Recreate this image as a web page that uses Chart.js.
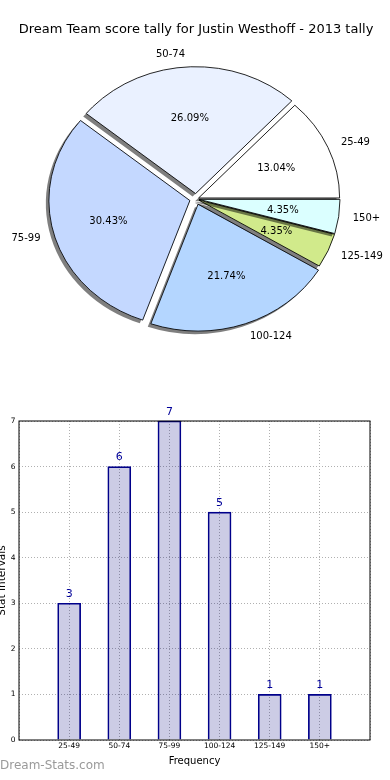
<!DOCTYPE html>
<html>
<head>
<meta charset="utf-8">
<script src="https://cdn.jsdelivr.net/npm/chart.js@4.4.1/dist/chart.umd.min.js"></script>
<style>
    body { margin: 0; background: #fff; width: 390px; height: 780px; overflow: hidden; position: relative; font-family: 'DejaVu Sans', sans-serif; }
    #caixaPizza { position: absolute; left: 0; top: 0; width: 390px; height: 370px; }
    #caixaBarras { position: absolute; left: -8px; top: 370px; width: 398px; height: 410px; }
    #marca { position: absolute; left: 0; top: 758px; font-size: 12px; color: #9a9a9a; }
</style>
</head>
<body>
<div id="caixaPizza"><canvas id="pizza"></canvas></div>
<div id="caixaBarras"><canvas id="barras"></canvas></div>
<div id="marca">Dream-Stats.com</div>
<script>
const titulo = 'Dream Team score tally for Justin Westhoff - 2013 tally';
const faixas = ['25-49', '50-74', '75-99', '100-124', '125-149', '150+'];
const contagem = [3, 6, 7, 5, 1, 1];
const coresFatia = ['#ffffff', '#eaf1ff', '#c4d8ff', '#b4d6ff', '#d1ea8b', '#dbffff'];
const destaque = [9, 24, 24, 24, 7, 7];
const ticksY = [0, 1, 2, 3, 4, 5, 6, 7];

const fonte = "'DejaVu Sans', sans-serif";
const escalaY = 0.9;
const total = contagem.reduce((a, b) => a + b, 0);

function deslocamento(arco, i) {
    const circ = arco.endAngle - arco.startAngle;
    return destaque[i] / 4 * (2 - Math.sin(Math.min(Math.PI, circ)));
}

// pizza achatada (elipse), anti-horária, com sombra só no preenchimento
const elipse = {
    id: 'elipse',
    beforeDatasetsDraw(chart) {
        const ctx = chart.ctx;
        const arco = chart.getDatasetMeta(0).data[0];
        ctx.save();
        ctx.translate(arco.x, arco.y);
        ctx.scale(1, -escalaY);
        ctx.translate(-arco.x, -arco.y);
        ctx.shadowColor = 'rgba(0,0,0,0.5)';
        ctx.shadowOffsetX = -3;
        ctx.shadowOffsetY = 3;
        ctx.shadowBlur = 0;
    },
    afterDatasetsDraw(chart) {
        const ctx = chart.ctx;
        const arcos = chart.getDatasetMeta(0).data;
        ctx.shadowColor = 'rgba(0,0,0,0)';
        ctx.strokeStyle = '#000';
        ctx.lineWidth = 0.9;
        arcos.forEach((arco, i) => {
            const meio = (arco.startAngle + arco.endAngle) / 2;
            const desl = deslocamento(arco, i);
            const cx = arco.x + Math.cos(meio) * desl;
            const cy = arco.y + Math.sin(meio) * desl;
            ctx.beginPath();
            ctx.moveTo(cx, cy);
            ctx.arc(cx, cy, arco.outerRadius, arco.startAngle, arco.endAngle);
            ctx.closePath();
            ctx.stroke();
        });
        ctx.restore();

        ctx.save();
        ctx.fillStyle = '#000';
        ctx.font = '10px ' + fonte;
        ctx.textBaseline = 'middle';
        arcos.forEach((arco, i) => {
            const { x, y, outerRadius } = arco;
            const meio = (arco.startAngle + arco.endAngle) / 2;
            const desl = deslocamento(arco, i);
            const ponto = d => ({
                x: x + Math.cos(meio) * (d + desl),
                y: y + 0.5 - escalaY * Math.sin(meio) * (d + desl)
            });
            const pct = ponto(outerRadius * 0.6);
            ctx.textAlign = 'center';
            ctx.fillText((contagem[i] / total * 100).toFixed(2) + '%', pct.x, pct.y);
            const rot = ponto(outerRadius * 1.1);
            ctx.textAlign = Math.cos(meio) > 0 ? 'left' : 'right';
            ctx.fillText(faixas[i], rot.x, rot.y);
        });
        ctx.restore();
    }
};

new Chart(document.getElementById('pizza'), {
    type: 'pie',
    data: {
        labels: faixas,
        datasets: [{
            data: contagem,
            backgroundColor: coresFatia,
            borderWidth: 0,
            offset: destaque,
            clip: false
        }]
    },
    options: {
        responsive: true,
        maintainAspectRatio: false,
        animation: false,
        events: [],
        radius: 141,
        rotation: 90,
        layout: { padding: { left: 2, bottom: 17.6 } },
        plugins: {
            legend: { display: false },
            tooltip: { enabled: false },
            title: {
                display: true,
                text: titulo,
                color: '#000',
                font: { family: fonte, size: 13, weight: 'normal' },
                padding: { top: 22, bottom: 8 }
            }
        }
    },
    plugins: [elipse]
});

// barras com os valores em cima e moldura completa
const rotulosBarra = {
    id: 'rotulosBarra',
    afterDatasetsDraw(chart) {
        const ctx = chart.ctx;
        ctx.save();
        ctx.fillStyle = '#000099';
        ctx.font = '11px ' + fonte;
        ctx.textAlign = 'center';
        ctx.textBaseline = 'middle';
        chart.getDatasetMeta(0).data.forEach((barra, i) => {
            const v = chart.data.datasets[0].data[i];
            if (v == null) return;
            ctx.fillText(String(v), barra.x, barra.y - 9);
        });
        ctx.restore();
    },
    afterDraw(chart) {
        const { left, top, right, bottom } = chart.chartArea;
        const ctx = chart.ctx;
        ctx.save();
        ctx.strokeStyle = '#000';
        ctx.lineWidth = 1;
        ctx.strokeRect(left, top, right - left, bottom - top);
        ctx.restore();
    }
};

new Chart(document.getElementById('barras'), {
    type: 'bar',
    data: {
        labels: ['', ...faixas, ''],
        datasets: [{
            data: [null, ...contagem, null],
            backgroundColor: 'rgba(0,0,127,0.2)',
            borderColor: '#00008b',
            borderWidth: 1,
            barThickness: 23,
            clip: false
        }]
    },
    options: {
        responsive: true,
        maintainAspectRatio: false,
        animation: false,
        events: [],
        layout: { padding: { top: 51, right: 20, bottom: 10, left: 0 } },
        plugins: {
            legend: { display: false },
            tooltip: { enabled: false }
        },
        scales: {
            x: {
                offset: false,
                afterFit: escala => { escala.height = 30; },
                grid: { offset: false, color: '#b0b0b0', drawTicks: false },
                border: { display: false, dash: [1, 2] },
                ticks: { color: '#000', font: { family: fonte, size: 7.5 }, padding: 2, maxRotation: 0, autoSkip: false },
                title: { display: true, text: 'Frequency', color: '#000', font: { family: fonte, size: 10 }, padding: { top: 0, bottom: 3 } }
            },
            y: {
                min: 0,
                max: 7,
                afterFit: escala => { escala.width = 27; },
                afterBuildTicks: escala => { escala.ticks = ticksY.map(v => ({ value: v })); },
                grid: { color: '#b0b0b0', drawTicks: false },
                border: { display: false, dash: [1, 2] },
                ticks: { color: '#000', font: { family: fonte, size: 7.5 }, padding: 3.5 },
                title: { display: true, text: 'Stat Intervals', color: '#000', font: { family: fonte, size: 10.5 }, padding: { top: 4, bottom: 0 } }
            }
        }
    },
    plugins: [rotulosBarra]
});
</script>
</body>
</html>
